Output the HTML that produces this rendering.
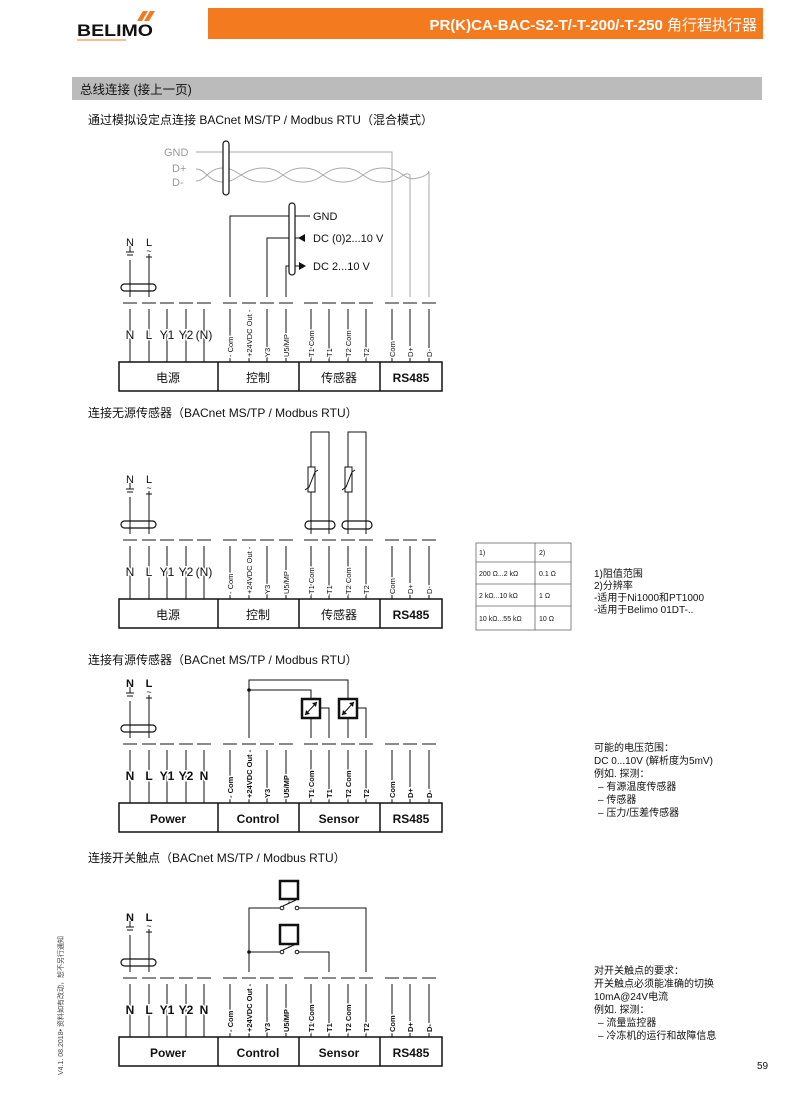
<!DOCTYPE html>
<html><head><meta charset="utf-8"><style>
html,body{margin:0;padding:0;background:#fff}
svg{display:block}
text{font-family:"Liberation Sans","Noto Sans CJK SC",sans-serif;fill:#111}
.m{stroke:#fff;stroke-width:3;paint-order:stroke}
</style></head><body>
<svg width="800" height="1094" viewBox="0 0 800 1094" xmlns="http://www.w3.org/2000/svg">
<!-- header -->
<g fill="#f47a20"><polygon points="137,21 143,11 148,11 142,21"/><polygon points="144,21 150,11 155,11 149,21"/></g>
<text x="77" y="36" font-size="17" font-weight="bold" textLength="76" lengthAdjust="spacingAndGlyphs">BELIMO</text>
<line x1="77" y1="40" x2="126" y2="40" stroke="#f47a20" stroke-width="1"/>
<rect x="208" y="8" width="555" height="31" fill="#f47a20"/>
<text x="757" y="30" font-size="15" font-weight="bold" text-anchor="end" style="fill:#fff">PR(K)CA-BAC-S2-T/-T-200/-T-250 <tspan font-weight="normal">角行程执行器</tspan></text>
<rect x="72" y="77" width="690" height="23" fill="#bbb"/>
<text x="80" y="94" font-size="12.5">总线连接 (接上一页)</text>

<text x="88" y="124" font-size="12">通过模拟设定点连接 BACnet MS/TP / Modbus RTU（混合模式）</text>
<text x="88" y="417" font-size="12">连接无源传感器（BACnet MS/TP / Modbus RTU）</text>
<text x="88" y="664" font-size="12">连接有源传感器（BACnet MS/TP / Modbus RTU）</text>
<text x="88" y="862" font-size="12">连接开关触点（BACnet MS/TP / Modbus RTU）</text>

<!-- Diagram 1 extras -->
<g fill="none">
<text x="164" y="156" font-size="11" style="fill:#999">GND</text>
<text x="172" y="172" font-size="11" style="fill:#999">D+</text>
<text x="172" y="186" font-size="11" style="fill:#999">D-</text>
<polyline points="196,152 392,152 392,297" stroke="#aaa" stroke-width="1"/>
<path d="M196,169 C206,169 208,182 223,182 S243,168 263,168 S283,182 303,182 S323,168 343,168 S363,182 383,182 S403,170 410,175 L410,297" stroke="#aaa" stroke-width="1"/>
<path d="M196,181 C206,181 208,168 223,168 S243,182 263,182 S283,168 303,168 S323,182 343,182 S363,168 383,168 S403,182 418,178 S427,170 429,172 L429,297" stroke="#aaa" stroke-width="1"/>
<rect x="223" y="141" width="6" height="54" rx="3" stroke="#111" stroke-width="1.2" fill="#fff"/>
<polyline points="230,297 230,216 310,216" stroke="#111"/>
<polyline points="267,297 267,238 305,238" stroke="#111"/>
<polyline points="286,297 286,266 300,266" stroke="#111"/>
<rect x="289" y="203" width="6" height="72" rx="3" stroke="#111" stroke-width="1.2" fill="#fff"/>
</g>
<polygon points="298,238 305,234 305,242" fill="#111"/>
<polygon points="306,266 299,262 299,270" fill="#111"/>
<text x="313" y="220" font-size="11">GND</text>
<text x="313" y="242" font-size="11">DC (0)2...10 V</text>
<text x="313" y="270" font-size="11">DC 2...10 V</text>

<!-- Diagram 2 extras -->
<g fill="none" stroke="#111" stroke-width="1">
<polyline points="311,534 311,432 329,432 329,534"/>
<polyline points="348,534 348,432 366,432 366,534"/>
<rect x="308" y="467" width="7" height="25" fill="#fff"/>
<rect x="345" y="467" width="7" height="25" fill="#fff"/>
<polyline points="305,490 309,487 315,472 318,470"/>
<polyline points="342,490 346,487 352,472 355,470"/>
<rect x="305" y="521" width="30" height="8" rx="4" stroke-width="1.2" fill="none"/>
<rect x="342" y="521" width="30" height="8" rx="4" stroke-width="1.2" fill="none"/>
</g>
<g fill="none" stroke="#666" stroke-width="0.8">
<rect x="476" y="543" width="95" height="87"/>
<line x1="535" y1="543" x2="535" y2="630"/>
<line x1="476" y1="562" x2="571" y2="562"/>
<line x1="476" y1="584" x2="571" y2="584"/>
<line x1="476" y1="606" x2="571" y2="606"/>
</g>
<g font-size="7">
<text x="479" y="555">1)</text><text x="539" y="555">2)</text>
<text x="479" y="576">200 Ω...2 kΩ</text><text x="539" y="576">0.1 Ω</text>
<text x="479" y="598">2 kΩ...10 kΩ</text><text x="539" y="598">1 Ω</text>
<text x="479" y="621">10 kΩ...55 kΩ</text><text x="539" y="621">10 Ω</text>
</g>
<g font-size="10">
<text x="594" y="577">1)阻值范围</text>
<text x="594" y="589">2)分辨率</text>
<text x="594" y="601">-适用于Ni1000和PT1000</text>
<text x="594" y="613">-适用于Belimo 01DT-..</text>
</g>

<!-- Diagram 3 extras -->
<g fill="none" stroke="#111" stroke-width="1">
<polyline points="249,738 249,680 348,680 348,699"/>
<polyline points="249,690 311,690 311,699"/>
<line x1="311" y1="718" x2="311" y2="738"/>
<polyline points="320,708 329,708 329,738"/>
<line x1="348" y1="718" x2="348" y2="738"/>
<polyline points="357,708 366,708 366,738"/>
<rect x="302" y="699" width="18" height="19" stroke-width="2.5" fill="#fff"/>
<rect x="339" y="699" width="18" height="19" stroke-width="2.5" fill="#fff"/>
<line x1="305" y1="715" x2="317" y2="702"/>
<line x1="342" y1="715" x2="354" y2="702"/>
</g>
<g fill="#111">
<circle cx="249" cy="690" r="1.8"/>
<polygon points="317,702 312,703 316,707"/><polygon points="305,715 306,710 310,714"/>
<polygon points="354,702 349,703 353,707"/><polygon points="342,715 343,710 347,714"/>
</g>
<g font-size="10">
<text x="594" y="751">可能的电压范围：</text>
<text x="594" y="764">DC 0...10V (解析度为5mV)</text>
<text x="594" y="777">例如. 探测：</text>
<text x="598" y="790">–  有源温度传感器</text>
<text x="598" y="803">–  传感器</text>
<text x="598" y="816">–  压力/压差传感器</text>
</g>

<!-- Diagram 4 extras -->
<g fill="none" stroke="#111" stroke-width="1">
<polyline points="249,972 249,908 280,908"/>
<polyline points="299,908 366,908 366,972"/>
<polyline points="249,952 280,952"/>
<polyline points="299,952 329,952 329,972"/>
<line x1="283" y1="906" x2="296" y2="900"/>
<line x1="283" y1="950" x2="296" y2="944"/>
<line x1="289" y1="899" x2="289" y2="903" stroke-dasharray="1.5 1"/>
<line x1="289" y1="944" x2="289" y2="947" stroke-dasharray="1.5 1"/>
<circle cx="282" cy="908" r="1.8" fill="#fff"/><circle cx="297" cy="908" r="1.8" fill="#fff"/>
<circle cx="282" cy="952" r="1.8" fill="#fff"/><circle cx="297" cy="952" r="1.8" fill="#fff"/>
<rect x="280" y="881" width="18" height="18" stroke-width="2.5" fill="#fff"/>
<rect x="280" y="925" width="18" height="19" stroke-width="2.5" fill="#fff"/>
</g>
<circle cx="249" cy="952" r="1.8" fill="#111"/>
<g font-size="10">
<text x="594" y="974">对开关触点的要求：</text>
<text x="594" y="987">开关触点必须能准确的切换</text>
<text x="594" y="1000">10mA@24V电流</text>
<text x="594" y="1013">例如. 探测：</text>
<text x="598" y="1026">–  流量监控器</text>
<text x="598" y="1039">–  冷冻机的运行和故障信息</text>
</g>
<text x="757" y="1069" font-size="10">59</text>
<text transform="translate(63,1075) rotate(-90)" font-size="7" style="fill:#444">V4.1. 08.2018• 资料如有改动，恕不另行通知</text>

<!-- Block 1 -->
<g>
<g stroke="#444" stroke-width="1.2"><path d="M123,303h14M142,303h14M160,303h14M179,303h14M197,303h14M223,303h14M242,303h14M260,303h14M279,303h14M304,303h14M322,303h14M341,303h14M359,303h14M385,303h14M403,303h14M422,303h14"/></g>
<g stroke="#111" stroke-width="1">
<path d="M130,260V297M149,260V297M130,309V362M149,309V362M167,309V362M186,309V362M204,309V362M230,309V362M249,309V362M267,309V362M286,309V362M311,309V362M329,309V362M348,309V362M366,309V362M392,309V362M410,309V362M429,309V362"/>
<rect x="121" y="284" width="35" height="7" rx="3.5" fill="none" stroke-width="1.2"/>
<path d="M126,252h8M127,255h6M130,246v6M146,257h6M149,254v6"/>
</g>
<text x="130" y="246" font-size="11" text-anchor="middle">N</text>
<text x="149" y="246" font-size="11" text-anchor="middle">L</text>
<text x="149" y="254" font-size="9" text-anchor="middle">~</text>
<g font-size="12" text-anchor="middle">
<text class="m" x="130" y="339">N</text><text class="m" x="149" y="339">L</text><text class="m" x="167" y="339">Y1</text><text class="m" x="186" y="339">Y2</text><text class="m" x="204" y="339">(N)</text>
</g>
<g font-size="7.5">
<text class="m" transform="translate(233,357) rotate(-90)">- Com</text>
<text class="m" transform="translate(252,357) rotate(-90)">+24VDC Out -</text>
<text class="m" transform="translate(270,357) rotate(-90)">Y3</text>
<text class="m" transform="translate(289,357) rotate(-90)">U5/MP</text>
<text class="m" transform="translate(314,357) rotate(-90)">T1 Com</text>
<text class="m" transform="translate(332,357) rotate(-90)">T1</text>
<text class="m" transform="translate(351,357) rotate(-90)">T2 Com</text>
<text class="m" transform="translate(369,357) rotate(-90)">T2</text>
<text class="m" transform="translate(395,357) rotate(-90)">Com</text>
<text class="m" transform="translate(413,357) rotate(-90)">D+</text>
<text class="m" transform="translate(432,357) rotate(-90)">D-</text>
</g>
<g fill="none" stroke="#111" stroke-width="1.5"><rect x="119" y="362" width="323" height="29"/><path d="M218,362v29M299,362v29M380,362v29"/></g>
<g font-size="12" text-anchor="middle"><text x="168" y="382">电源</text><text x="258" y="382">控制</text><text x="339" y="382">传感器</text><text x="411" y="382" font-weight="bold">RS485</text></g>
</g>

<!-- Block 2 -->
<g transform="translate(0,237)">
<g stroke="#444" stroke-width="1.2"><path d="M123,303h14M142,303h14M160,303h14M179,303h14M197,303h14M223,303h14M242,303h14M260,303h14M279,303h14M304,303h14M322,303h14M341,303h14M359,303h14M385,303h14M403,303h14M422,303h14"/></g>
<g stroke="#111" stroke-width="1">
<path d="M130,260V297M149,260V297M130,309V362M149,309V362M167,309V362M186,309V362M204,309V362M230,309V362M249,309V362M267,309V362M286,309V362M311,309V362M329,309V362M348,309V362M366,309V362M392,309V362M410,309V362M429,309V362"/>
<rect x="121" y="284" width="35" height="7" rx="3.5" fill="none" stroke-width="1.2"/>
<path d="M126,252h8M127,255h6M130,246v6M146,257h6M149,254v6"/>
</g>
<text x="130" y="246" font-size="11" text-anchor="middle">N</text>
<text x="149" y="246" font-size="11" text-anchor="middle">L</text>
<text x="149" y="254" font-size="9" text-anchor="middle">~</text>
<g font-size="12" text-anchor="middle">
<text class="m" x="130" y="339">N</text><text class="m" x="149" y="339">L</text><text class="m" x="167" y="339">Y1</text><text class="m" x="186" y="339">Y2</text><text class="m" x="204" y="339">(N)</text>
</g>
<g font-size="7.5">
<text class="m" transform="translate(233,357) rotate(-90)">- Com</text>
<text class="m" transform="translate(252,357) rotate(-90)">+24VDC Out -</text>
<text class="m" transform="translate(270,357) rotate(-90)">Y3</text>
<text class="m" transform="translate(289,357) rotate(-90)">U5/MP</text>
<text class="m" transform="translate(314,357) rotate(-90)">T1 Com</text>
<text class="m" transform="translate(332,357) rotate(-90)">T1</text>
<text class="m" transform="translate(351,357) rotate(-90)">T2 Com</text>
<text class="m" transform="translate(369,357) rotate(-90)">T2</text>
<text class="m" transform="translate(395,357) rotate(-90)">Com</text>
<text class="m" transform="translate(413,357) rotate(-90)">D+</text>
<text class="m" transform="translate(432,357) rotate(-90)">D-</text>
</g>
<g fill="none" stroke="#111" stroke-width="1.5"><rect x="119" y="362" width="323" height="29"/><path d="M218,362v29M299,362v29M380,362v29"/></g>
<g font-size="12" text-anchor="middle"><text x="168" y="382">电源</text><text x="258" y="382">控制</text><text x="339" y="382">传感器</text><text x="411" y="382" font-weight="bold">RS485</text></g>
</g>

<!-- Block 3 -->
<g transform="translate(0,441)">
<g stroke="#444" stroke-width="1.2"><path d="M123,303h14M142,303h14M160,303h14M179,303h14M197,303h14M223,303h14M242,303h14M260,303h14M279,303h14M304,303h14M322,303h14M341,303h14M359,303h14M385,303h14M403,303h14M422,303h14"/></g>
<g stroke="#111" stroke-width="1">
<path d="M130,260V297M149,260V297M130,309V362M149,309V362M167,309V362M186,309V362M204,309V362M230,309V362M249,309V362M267,309V362M286,309V362M311,309V362M329,309V362M348,309V362M366,309V362M392,309V362M410,309V362M429,309V362"/>
<rect x="121" y="284" width="35" height="7" rx="3.5" fill="none" stroke-width="1.2"/>
<path d="M126,252h8M127,255h6M130,246v6M146,257h6M149,254v6"/>
</g>
<text x="130" y="246" font-size="11" font-weight="bold" text-anchor="middle">N</text>
<text x="149" y="246" font-size="11" font-weight="bold" text-anchor="middle">L</text>
<text x="149" y="254" font-size="9" text-anchor="middle">~</text>
<g font-size="12" font-weight="bold" text-anchor="middle">
<text class="m" x="130" y="339">N</text><text class="m" x="149" y="339">L</text><text class="m" x="167" y="339">Y1</text><text class="m" x="186" y="339">Y2</text><text class="m" x="204" y="339">N</text>
</g>
<g font-size="7.5" font-weight="bold">
<text class="m" transform="translate(233,357) rotate(-90)">- Com</text>
<text class="m" transform="translate(252,357) rotate(-90)">+24VDC Out -</text>
<text class="m" transform="translate(270,357) rotate(-90)">Y3</text>
<text class="m" transform="translate(289,357) rotate(-90)">U5/MP</text>
<text class="m" transform="translate(314,357) rotate(-90)">T1 Com</text>
<text class="m" transform="translate(332,357) rotate(-90)">T1</text>
<text class="m" transform="translate(351,357) rotate(-90)">T2 Com</text>
<text class="m" transform="translate(369,357) rotate(-90)">T2</text>
<text class="m" transform="translate(395,357) rotate(-90)">Com</text>
<text class="m" transform="translate(413,357) rotate(-90)">D+</text>
<text class="m" transform="translate(432,357) rotate(-90)">D-</text>
</g>
<g fill="none" stroke="#111" stroke-width="1.5"><rect x="119" y="362" width="323" height="29"/><path d="M218,362v29M299,362v29M380,362v29"/></g>
<g font-size="12" font-weight="bold" text-anchor="middle"><text x="168" y="382">Power</text><text x="258" y="382">Control</text><text x="339" y="382">Sensor</text><text x="411" y="382">RS485</text></g>
</g>

<!-- Block 4 -->
<g transform="translate(0,675)">
<g stroke="#444" stroke-width="1.2"><path d="M123,303h14M142,303h14M160,303h14M179,303h14M197,303h14M223,303h14M242,303h14M260,303h14M279,303h14M304,303h14M322,303h14M341,303h14M359,303h14M385,303h14M403,303h14M422,303h14"/></g>
<g stroke="#111" stroke-width="1">
<path d="M130,260V297M149,260V297M130,309V362M149,309V362M167,309V362M186,309V362M204,309V362M230,309V362M249,309V362M267,309V362M286,309V362M311,309V362M329,309V362M348,309V362M366,309V362M392,309V362M410,309V362M429,309V362"/>
<rect x="121" y="284" width="35" height="7" rx="3.5" fill="none" stroke-width="1.2"/>
<path d="M126,252h8M127,255h6M130,246v6M146,257h6M149,254v6"/>
</g>
<text x="130" y="246" font-size="11" font-weight="bold" text-anchor="middle">N</text>
<text x="149" y="246" font-size="11" font-weight="bold" text-anchor="middle">L</text>
<text x="149" y="254" font-size="9" text-anchor="middle">~</text>
<g font-size="12" font-weight="bold" text-anchor="middle">
<text class="m" x="130" y="339">N</text><text class="m" x="149" y="339">L</text><text class="m" x="167" y="339">Y1</text><text class="m" x="186" y="339">Y2</text><text class="m" x="204" y="339">N</text>
</g>
<g font-size="7.5" font-weight="bold">
<text class="m" transform="translate(233,357) rotate(-90)">- Com</text>
<text class="m" transform="translate(252,357) rotate(-90)">+24VDC Out -</text>
<text class="m" transform="translate(270,357) rotate(-90)">Y3</text>
<text class="m" transform="translate(289,357) rotate(-90)">U5/MP</text>
<text class="m" transform="translate(314,357) rotate(-90)">T1 Com</text>
<text class="m" transform="translate(332,357) rotate(-90)">T1</text>
<text class="m" transform="translate(351,357) rotate(-90)">T2 Com</text>
<text class="m" transform="translate(369,357) rotate(-90)">T2</text>
<text class="m" transform="translate(395,357) rotate(-90)">Com</text>
<text class="m" transform="translate(413,357) rotate(-90)">D+</text>
<text class="m" transform="translate(432,357) rotate(-90)">D-</text>
</g>
<g fill="none" stroke="#111" stroke-width="1.5"><rect x="119" y="362" width="323" height="29"/><path d="M218,362v29M299,362v29M380,362v29"/></g>
<g font-size="12" font-weight="bold" text-anchor="middle"><text x="168" y="382">Power</text><text x="258" y="382">Control</text><text x="339" y="382">Sensor</text><text x="411" y="382">RS485</text></g>
</g>
</svg>
</body></html>
